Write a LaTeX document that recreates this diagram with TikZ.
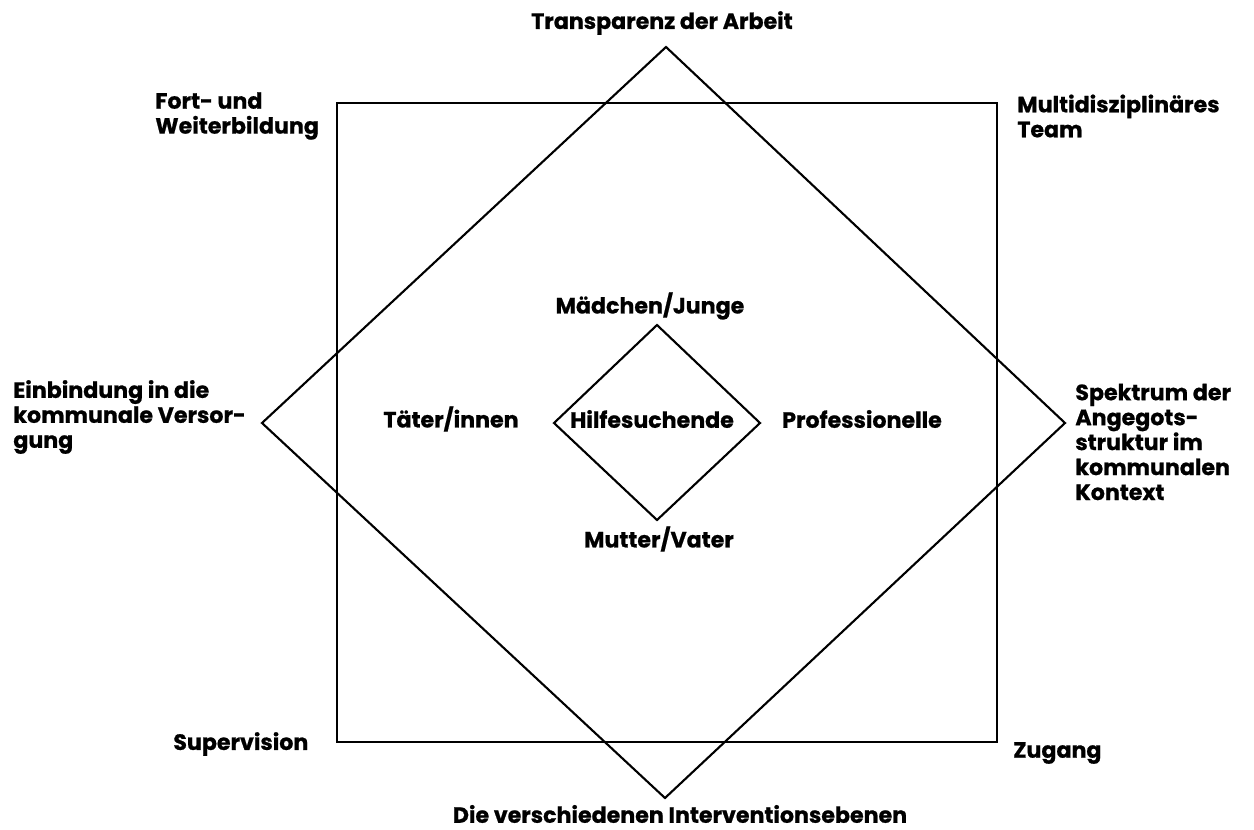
\documentclass[tikz,border=0pt]{standalone}
\usepackage{fontspec}
\setmainfont{Poppins}[BoldFeatures={FakeBold=0.8}]
\usetikzlibrary{positioning}

\begin{document}
\begin{tikzpicture}[x=0.02cm, y=-0.02cm,
  lbl/.style={font=\fontsize{12.6}{14.2}\selectfont\bfseries, inner sep=0pt},
  lft/.style={lbl, align=left, anchor=west},
  frame/.style={line width=1.2pt, line join=miter},
]
\useasboundingbox (0,0) rectangle (1254,829);

% Square
\draw[frame] (337,103) rectangle (997,742);

% Outer diamond
\coordinate (dtop) at (666,47);
\coordinate (dright) at (1065,423);
\coordinate (dbot) at (665,798);
\coordinate (dleft) at (262,423);
\draw[frame] (dtop) -- (dright) -- (dbot) -- (dleft) -- cycle;

% Inner diamond
\coordinate (itop) at (657,325);
\coordinate (iright) at (760,423);
\coordinate (ibot) at (657,520);
\coordinate (ileft) at (554,423);
\draw[frame] (itop) -- (iright) -- (ibot) -- (ileft) -- cycle;

% Labels
\node[lbl] (transp) at (662,23) {Transparenz der Arbeit};
\node[lbl] (interv) at (680,814) {Die verschiedenen Interventionsebenen};
\node[lft] (fort) at (155,116) {Fort- und\\Weiterbildung};
\node[lft] (multi) at (1017,116) {Multidisziplinäres\\Team};
\node[lft] (einb) at (13,417) {Einbindung in die\\kommunale Versor-\\gung};
\node[lft] (spek) at (1075,442) {Spektrum der\\Angegots-\\struktur im\\kommunalen\\Kontext};
\node[lft] (superv) at (173,744) {Supervision};
\node[lft] (zugang) at (1013,753) {Zugang};
\node[lbl] (taeter) at (451,419) {Täter/innen};
\node[lbl] (prof) at (862,419) {Professionelle};
\node[lbl] (kind) at (650,306) {Mädchen/Junge};
\node[lbl] (eltern) at (659,539) {Mutter/Vater};
\node[lbl] (hilfe) at (652,419) {Hilfesuchende};
\end{tikzpicture}
\end{document}
